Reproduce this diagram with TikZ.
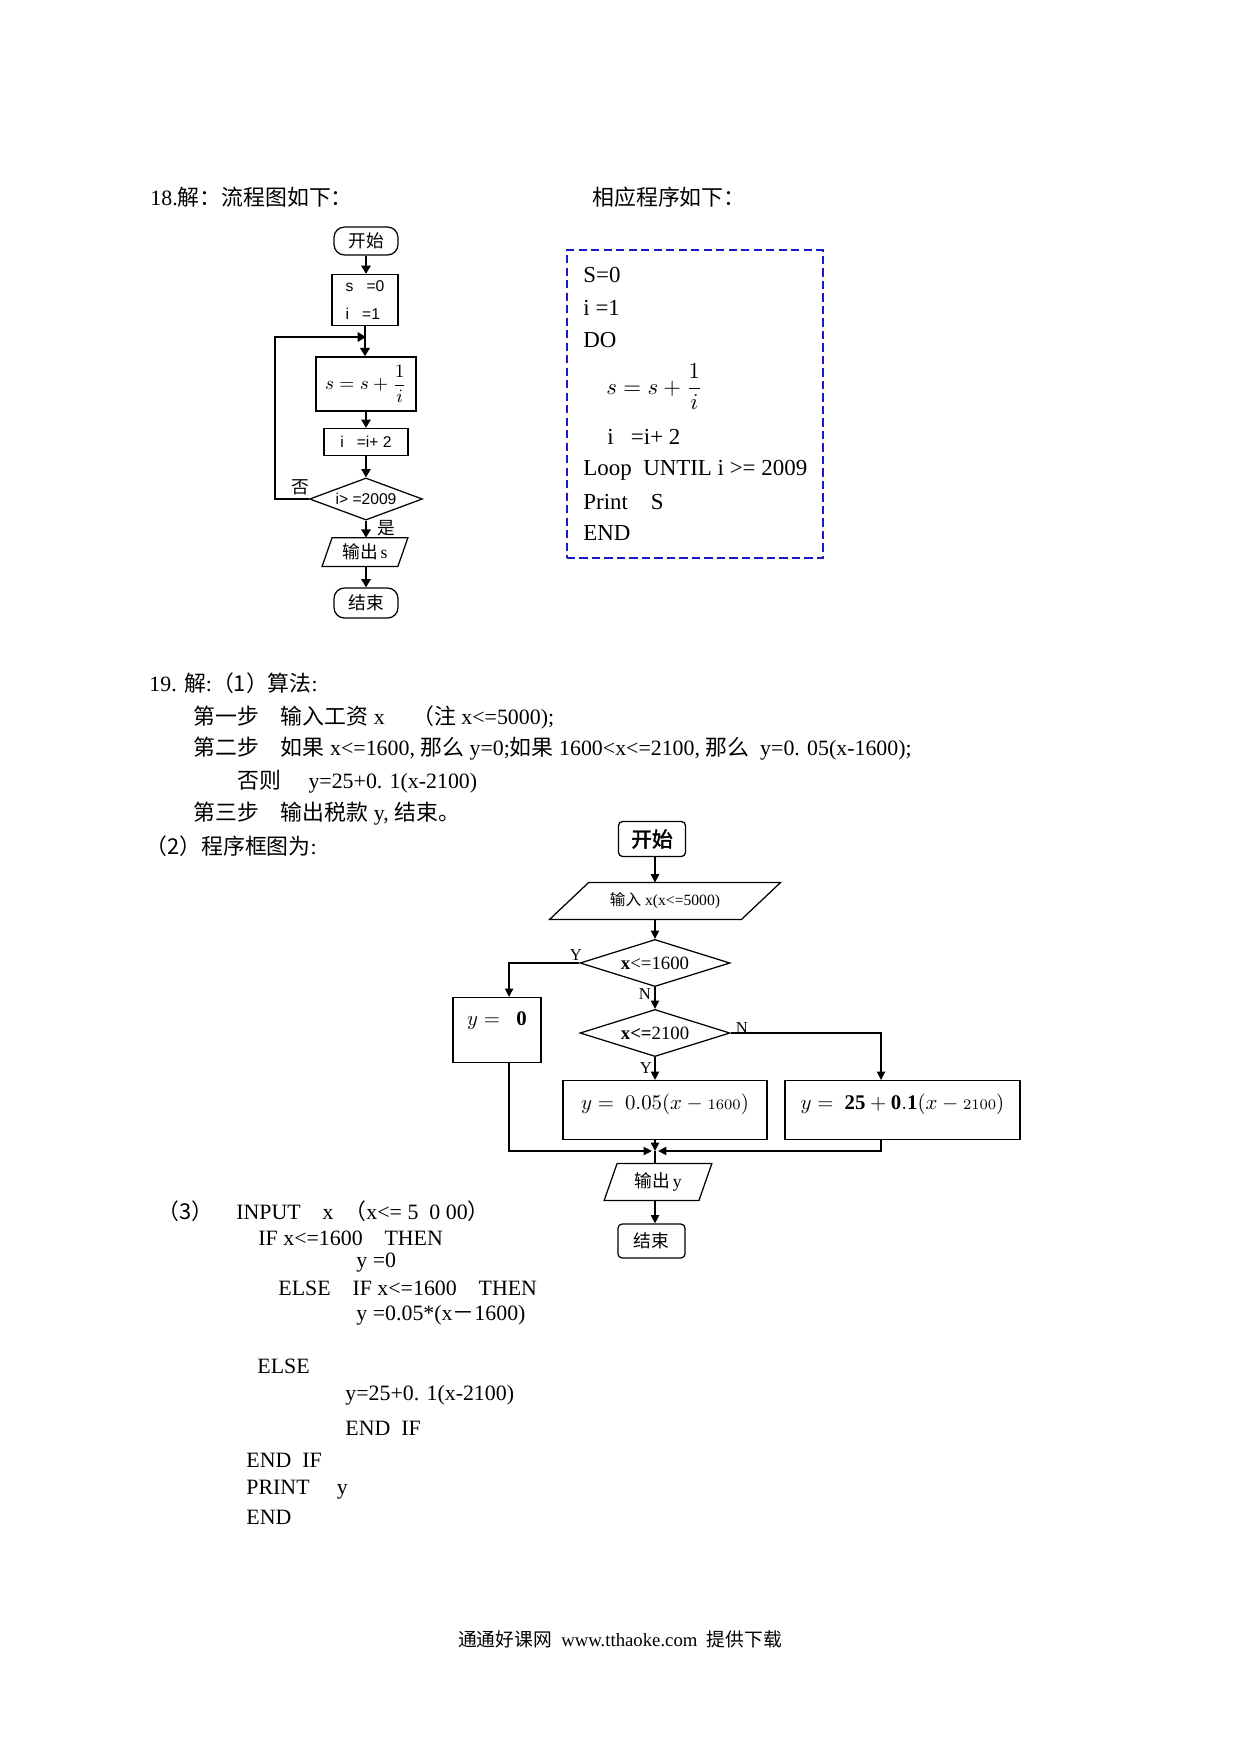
\documentclass[tikz,border=0pt]{standalone}
\usepackage{amsmath}
\usepackage{fontspec}
\setmainfont{Liberation Serif}
\newfontfamily\cjk{Noto Sans CJK SC}
\newfontfamily\cjkb[FakeBold=2]{Noto Sans CJK SC}
\newfontfamily\fcsans{Liberation Sans}
\usetikzlibrary{arrows.meta,shapes.geometric}
\definecolor{codeblue}{RGB}{25,25,200}
\newcommand\drawpara[2]{\draw[line width=0.6pt] ([xshift=-#2]#1.south west) -- ([xshift=#2]#1.north west) -- ([xshift=#2]#1.north east) -- ([xshift=-#2]#1.south east) -- cycle;}
\begin{document}
\begin{tikzpicture}[x=0.48pt,y=-0.48pt,
  txt/.style={anchor=west, inner sep=0pt, font=\fontsize{10.5}{12}\selectfont},
  code/.style={anchor=west, inner sep=0pt, font=\fontsize{11}{13}\selectfont},
  fbox/.style={draw, line width=0.6pt, inner sep=0pt},
  pbox/.style={inner sep=0pt},
  arrA/.style={line width=1pt, -{Triangle[length=4pt,width=4.5pt]}},
  arrB/.style={line width=0.6pt, -{Triangle[length=4pt,width=4pt]}},
  lineB/.style={line width=0.6pt},
  lab/.style={inner sep=0pt, font=\fontsize{8}{9}\selectfont},
  sfont/.style={font=\fcsans\fontsize{7.5}{9}\selectfont},
  cfont/.style={font=\cjk\fontsize{8.5}{9}\selectfont},
  codebox/.style={draw=codeblue, line width=1.2pt, dash pattern=on 4pt off 2pt}
]
\useasboundingbox (0,0) rectangle (1240,1754);
\fill[white] (0,0) rectangle (1240,1754);

% ---------- headings ----------
\node[txt] (h18) at (150,197) {18.{\cjk 解：流程图如下：}};
\node[txt] (hprog) at (592,197) {{\cjk 相应程序如下：}};

% ---------- flowchart 1 ----------
\node[fbox, rounded corners=5pt, minimum width=30.7pt, minimum height=13.4pt, cfont] (s1) at (366,241) {开始};
\node[fbox, minimum width=31.7pt, minimum height=24.5pt, align=left, font=\fcsans\fontsize{7.5}{13.4}\selectfont] (a1) at (365,300) {s\ \ \ =0\\i\ \ \ =1};
\node[fbox, minimum width=48pt, minimum height=26pt, font=\fontsize{9.5}{10}\selectfont] (b1) at (366,384) {$s=s+\dfrac{1}{i}$};
\node[fbox, minimum width=40.3pt, minimum height=13pt, sfont] (c1) at (366,442) {i\ \ \ =i+ 2};
\node[fbox, diamond, minimum width=54.2pt, minimum height=20.2pt,
      label={[lab, sfont]center:i> =2009}] (d1) at (366,499) {};
\node[pbox, minimum width=36pt, minimum height=13.4pt, font=\fontsize{8.5}{9}\selectfont] (o1) at (365,552) {{\cjk 输出}\,s};
\drawpara{o1}{2.4pt}
\node[fbox, rounded corners=5pt, minimum width=30.7pt, minimum height=14.4pt, cfont] (e1) at (366,603) {结束};
\coordinate (j1) at (366,337);
\draw[arrA] (s1.south) -- (s1.south |- a1.north);
\draw[arrA] (a1.south) -- (a1.south |- b1.north);
\draw[arrA] (d1.west) -- ++(-34,0) |- (j1);
\draw[arrA] (b1.south) -- (c1.north);
\draw[arrA, line width=0.6pt] (c1.south) -- (d1.north);
\draw[arrA] (d1.south) -- (d1.south |- o1.north);
\draw[arrA] (d1.south |- o1.south) -- (d1.south |- e1.north);
\node[lab, cfont] (no1) at (300,487) {否};
\node[lab, cfont] (yes1) at (386,528) {是};

% ---------- program box ----------
\node[codebox, minimum width=122.9pt, minimum height=147.8pt] (cb) at (695,404) {};
\node[code] (p1) at (583,275) {S=0};
\node[code] (p2) at (583,308) {i =1};
\node[code] (p3) at (583,340) {DO};
\node[code, font=\fontsize{11}{12}\selectfont] (p4) at (606,387) {$s=s+\dfrac{1}{i}$};
\node[code] (p5) at (607,437) {i\ \ \ =i+ 2};
\node[code] (p6) at (583,470) {Loop\ \ UNTIL i >= 2009};
\node[code] (p7) at (583,502) {Print\ \ \ \ S};
\node[code] (p8) at (583,533) {END};

% ---------- problem 19 text ----------
\node[txt] (t1) at (149,683) {19. {\cjk 解}:{\cjk （1）算法}:};
\node[txt] (t2) at (193,717) {{\cjk 第一步\quad 输入工资} x\quad\ {\cjk （注} x<=5000);};
\node[txt] (t3) at (193,749) {{\cjk 第二步\quad 如果} x<=1600, {\cjk 那么} y=0;{\cjk 如果} 1600<x<=2100, {\cjk 那么}\ \ y=0. 05(x-1600);};
\node[txt] (t4) at (237,782) {{\cjk 否则}\quad\ y=25+0. 1(x-2100)};
\node[txt] (t5) at (193,814) {{\cjk 第三步\quad 输出税款} y, {\cjk 结束。}};
\node[txt] (t6) at (145,846) {{\cjk （2）程序框图为}:};

% ---------- flowchart 2 ----------
\coordinate (col) at (655,0);
\node[fbox, rounded corners=2pt, minimum width=32.2pt, minimum height=16.8pt, font=\cjkb\fontsize{10}{11}\selectfont] (s2) at (652,839) {开始};
\node[pbox, minimum width=91.7pt, minimum height=17.3pt, font=\fontsize{7.5}{9}\selectfont] (i2) at (665,901) {{\cjk 输入} x(x<=5000)};
\drawpara{i2}{9.36pt}
\node[fbox, diamond, minimum width=72pt, minimum height=22.6pt,
      label={[lab, font=\fontsize{9}{10}\selectfont]center:\textbf{x}<=1600}] (d21) at (655,963) {};
\node[fbox, minimum width=42.2pt, minimum height=31.2pt,
      label={[lab, font=\fontsize{10}{11}\selectfont, yshift=4.3pt]center:$y=\ \ \mathbf{0}$}] (y0) at (497,1030) {};
\node[fbox, diamond, minimum width=72pt, minimum height=22.6pt,
      label={[lab, font=\fontsize{9}{10}\selectfont]center:\textbf{x<=}2100}] (d22) at (655,1033) {};
\node[fbox, minimum width=97.9pt, minimum height=28.3pt,
      label={[lab, font=\fontsize{10}{11}\selectfont, yshift=2.9pt]center:$y=\ 0.05(x-{\scriptstyle 1600})$}] (b2) at (665,1110) {};
\node[fbox, minimum width=112.8pt, minimum height=28.3pt,
      label={[lab, font=\fontsize{10}{11}\selectfont, yshift=2.9pt]center:$y=\ \mathbf{25+0.1}(x-{\scriptstyle 2100})$}] (b3) at (902.5,1110) {};
\node[pbox, minimum width=45.1pt, minimum height=17.3pt, font=\fontsize{8.5}{10}\selectfont] (o2) at (658,1182) {{\cjk 输出}\,y};
\drawpara{o2}{3.1pt}
\node[fbox, rounded corners=2pt, minimum width=32.2pt, minimum height=16.3pt, font=\cjk\fontsize{8.5}{10}\selectfont] (e2) at (651.5,1241) {结束};
\coordinate (m) at (655,1151);

\draw[arrB] (col |- s2.south) -- (col |- i2.north);
\draw[arrB] (col |- i2.south) -- (d21.north);
\draw[arrB] (d21.south) -- (d22.north);
\draw[arrB] (d21.west) -| ([xshift=5.8pt]y0.north);
\draw[arrB] (d22.east) -| ([xshift=-10.3pt]b3.north);
\draw[arrB] (d22.south) -- (col |- b2.north);
\draw[arrB] (col |- b2.south) -- (m);
\draw[arrB] ([xshift=5.8pt]y0.south) |- ([xshift=-1.5pt]m);
\draw[arrB] ([xshift=-10.3pt]b3.south) |- ([xshift=1.5pt]m);
\draw[lineB] (m) -- (col |- o2.north);
\draw[arrB] (col |- o2.south) -- (col |- e2.north);
\node[lab] (ly1) at (576,955) {Y};
\node[lab] (ln1) at (645,994) {N};
\node[lab] (ln2) at (742,1028) {N};
\node[lab] (ly2) at (646,1068) {Y};

% ---------- part (3) code ----------
\node[txt] (c0) at (157,1211) {{\cjk （3）}};
\node[txt] (c1t) at (236,1211) {INPUT\ \ \ \ x\ \ {\cjk （}x<= 5\ \ 0 00{\cjk ）}};
\node[txt] (c2t) at (258,1238) {IF x<=1600\quad THEN};
\node[txt] (c3t) at (356,1263) {y =0};
\node[txt] (c4t) at (278,1288) {ELSE\quad IF x<=1600\quad THEN};
\node[txt] (c5t) at (356,1315) {y =0.05*(x{\cjk －}1600)};
\node[txt] (c6t) at (257,1366) {ELSE};
\node[txt] (c7t) at (345,1395) {y=25+0. 1(x-2100)};
\node[txt] (c8t) at (345,1428) {END\ \ IF};
\node[txt] (c9t) at (246,1460) {END\ \ IF};
\node[txt] (c10t) at (246,1490) {PRINT\quad\ y};
\node[txt] (c11t) at (246,1517) {END};

% ---------- footer ----------
\node[inner sep=0pt, font=\fontsize{9}{10}\selectfont] (foot) at (620,1639) {{\cjk 通通好课网}\ \ www.tthaoke.com\ \ {\cjk 提供下载}};
\end{tikzpicture}
\end{document}
